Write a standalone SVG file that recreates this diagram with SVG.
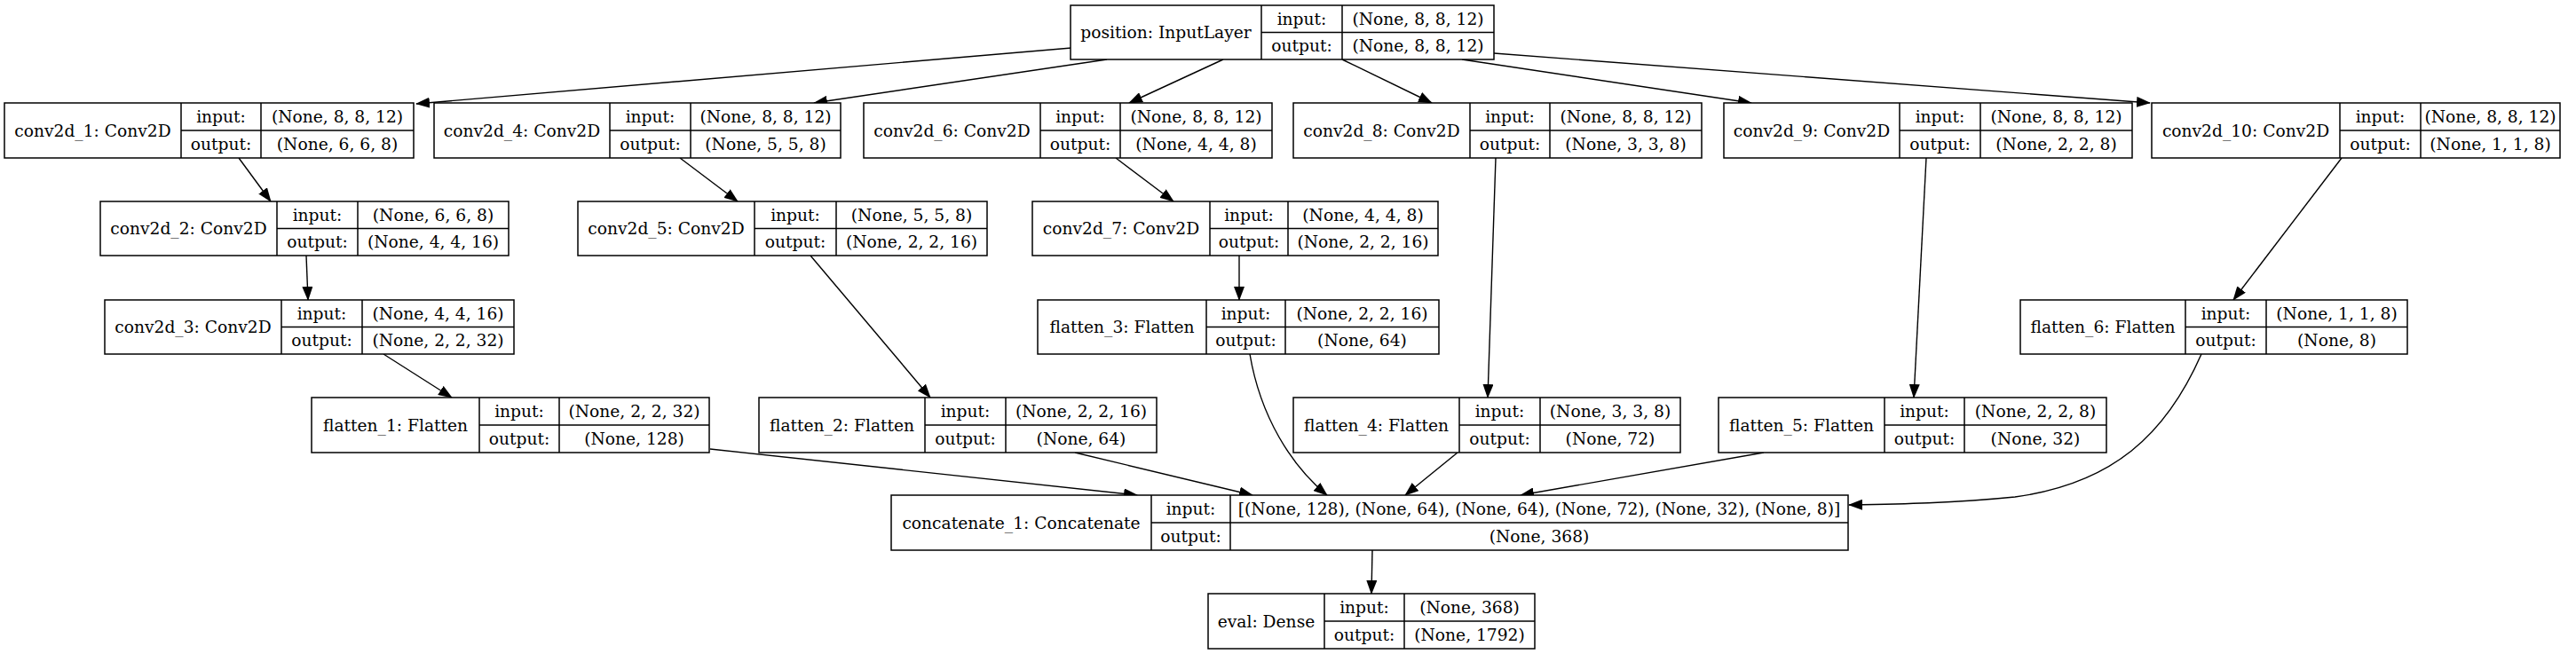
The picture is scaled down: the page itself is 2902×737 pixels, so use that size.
<svg xmlns="http://www.w3.org/2000/svg" width="2902" height="737" viewBox="0 0 2902 737">
<style>
.bg{fill:#fff}
.box{fill:#fff;stroke:#000;stroke-width:1.5}
.div{stroke:#000;stroke-width:1.5;fill:none}
text{font-family:"DejaVu Serif","Liberation Serif",serif;font-size:18.67px;text-anchor:middle;fill:#000}
.e{fill:none;stroke:#000;stroke-width:1.4;marker-end:url(#ah)}
</style>
<defs>
<marker id="ah" viewBox="0 0 16 12" refX="15" refY="6" markerWidth="16" markerHeight="12" markerUnits="userSpaceOnUse" orient="auto"><path d="M0,0 L16,6 L0,12 z" fill="#000"/></marker>
</defs>
<rect class="bg" x="0" y="0" width="2902" height="737"/>

<g id="connectors">
<path class="e" d="M1207,54 L469,117"/>
<path class="e" d="M1247,67 L917,116"/>
<path class="e" d="M1378,67 L1272,116"/>
<path class="e" d="M1512,67 L1613,116"/>
<path class="e" d="M1647,67 L1973,116"/>
<path class="e" d="M1683,60 L2422,116"/>
<path class="e" d="M269,178 L305,227"/>
<path class="e" d="M345,288 L347,338"/>
<path class="e" d="M432,399 L509,448"/>
<path class="e" d="M766,178 L831,227"/>
<path class="e" d="M913,288 L1048,448"/>
<path class="e" d="M1257,178 L1322,227"/>
<path class="e" d="M1396,288 L1396,338"/>
<path class="e" d="M1685,178 L1676,448"/>
<path class="e" d="M2170,178 L2156,448"/>
<path class="e" d="M2638,178 L2516,338"/>
<path class="e" d="M800,506 L1281,558"/>
<path class="e" d="M1211,510 L1411,558"/>
<path class="e" d="M1408,399 C1420,470 1455,525 1495,558"/>
<path class="e" d="M1642,510 L1583,558"/>
<path class="e" d="M1987,510 L1713,558"/>
<path class="e" d="M2480,399 C2440,490 2380,545 2270,560 C2200,567 2140,568 2083,569"/>
<path class="e" d="M1546,620 L1545,669"/>
</g>

<g id="position">
<rect class="box" x="1206" y="6" width="477" height="61"/>
<path class="div" d="M1421,6 V67 M1512,6 V67 M1421,36.5 H1683"/>
<text x="1313.5" y="43">position: InputLayer</text>
<text x="1466.5" y="27.75">input:</text>
<text x="1466.5" y="58.25">output:</text>
<text x="1597.5" y="27.75">(None, 8, 8, 12)</text>
<text x="1597.5" y="58.25">(None, 8, 8, 12)</text>
</g>

<g id="conv2d_1">
<rect class="box" x="5" y="116" width="461" height="62"/>
<path class="div" d="M204,116 V178 M294,116 V178 M204,147 H466"/>
<text x="104.5" y="153.5">conv2d_1: Conv2D</text>
<text x="249" y="138">input:</text>
<text x="249" y="169">output:</text>
<text x="380" y="138">(None, 8, 8, 12)</text>
<text x="380" y="169">(None, 6, 6, 8)</text>
</g>

<g id="conv2d_4">
<rect class="box" x="489" y="116" width="458" height="62"/>
<path class="div" d="M687,116 V178 M778,116 V178 M687,147 H947"/>
<text x="588" y="153.5">conv2d_4: Conv2D</text>
<text x="732.5" y="138">input:</text>
<text x="732.5" y="169">output:</text>
<text x="862.5" y="138">(None, 8, 8, 12)</text>
<text x="862.5" y="169">(None, 5, 5, 8)</text>
</g>

<g id="conv2d_6">
<rect class="box" x="973" y="116" width="460" height="62"/>
<path class="div" d="M1172,116 V178 M1262,116 V178 M1172,147 H1433"/>
<text x="1072.5" y="153.5">conv2d_6: Conv2D</text>
<text x="1217" y="138">input:</text>
<text x="1217" y="169">output:</text>
<text x="1347.5" y="138">(None, 8, 8, 12)</text>
<text x="1347.5" y="169">(None, 4, 4, 8)</text>
</g>

<g id="conv2d_8">
<rect class="box" x="1457" y="116" width="460" height="62"/>
<path class="div" d="M1656,116 V178 M1746,116 V178 M1656,147 H1917"/>
<text x="1556.5" y="153.5">conv2d_8: Conv2D</text>
<text x="1701" y="138">input:</text>
<text x="1701" y="169">output:</text>
<text x="1831.5" y="138">(None, 8, 8, 12)</text>
<text x="1831.5" y="169">(None, 3, 3, 8)</text>
</g>

<g id="conv2d_9">
<rect class="box" x="1942" y="116" width="460" height="62"/>
<path class="div" d="M2140,116 V178 M2231,116 V178 M2140,147 H2402"/>
<text x="2041" y="153.5">conv2d_9: Conv2D</text>
<text x="2185.5" y="138">input:</text>
<text x="2185.5" y="169">output:</text>
<text x="2316.5" y="138">(None, 8, 8, 12)</text>
<text x="2316.5" y="169">(None, 2, 2, 8)</text>
</g>

<g id="conv2d_10">
<rect class="box" x="2424" y="116" width="460" height="62"/>
<path class="div" d="M2636,116 V178 M2727,116 V178 M2636,147 H2884"/>
<text x="2530" y="153.5">conv2d_10: Conv2D</text>
<text x="2681.5" y="138">input:</text>
<text x="2681.5" y="169">output:</text>
<text x="2805.5" y="138">(None, 8, 8, 12)</text>
<text x="2805.5" y="169">(None, 1, 1, 8)</text>
</g>

<g id="conv2d_2">
<rect class="box" x="113" y="227" width="460" height="61"/>
<path class="div" d="M312,227 V288 M403,227 V288 M312,257.5 H573"/>
<text x="212.5" y="264">conv2d_2: Conv2D</text>
<text x="357.5" y="248.75">input:</text>
<text x="357.5" y="279.25">output:</text>
<text x="488" y="248.75">(None, 6, 6, 8)</text>
<text x="488" y="279.25">(None, 4, 4, 16)</text>
</g>

<g id="conv2d_5">
<rect class="box" x="651" y="227" width="461" height="61"/>
<path class="div" d="M850,227 V288 M942,227 V288 M850,257.5 H1112"/>
<text x="750.5" y="264">conv2d_5: Conv2D</text>
<text x="896" y="248.75">input:</text>
<text x="896" y="279.25">output:</text>
<text x="1027" y="248.75">(None, 5, 5, 8)</text>
<text x="1027" y="279.25">(None, 2, 2, 16)</text>
</g>

<g id="conv2d_7">
<rect class="box" x="1163" y="227" width="457" height="61"/>
<path class="div" d="M1363,227 V288 M1451,227 V288 M1363,257.5 H1620"/>
<text x="1263" y="264">conv2d_7: Conv2D</text>
<text x="1407" y="248.75">input:</text>
<text x="1407" y="279.25">output:</text>
<text x="1535.5" y="248.75">(None, 4, 4, 8)</text>
<text x="1535.5" y="279.25">(None, 2, 2, 16)</text>
</g>

<g id="conv2d_3">
<rect class="box" x="118" y="338" width="461" height="61"/>
<path class="div" d="M317,338 V399 M408,338 V399 M317,368.5 H579"/>
<text x="217.5" y="375">conv2d_3: Conv2D</text>
<text x="362.5" y="359.75">input:</text>
<text x="362.5" y="390.25">output:</text>
<text x="493.5" y="359.75">(None, 4, 4, 16)</text>
<text x="493.5" y="390.25">(None, 2, 2, 32)</text>
</g>

<g id="flatten_3">
<rect class="box" x="1169" y="338" width="452" height="61"/>
<path class="div" d="M1359,338 V399 M1448,338 V399 M1359,368.5 H1621"/>
<text x="1264" y="375">flatten_3: Flatten</text>
<text x="1403.5" y="359.75">input:</text>
<text x="1403.5" y="390.25">output:</text>
<text x="1534.5" y="359.75">(None, 2, 2, 16)</text>
<text x="1534.5" y="390.25">(None, 64)</text>
</g>

<g id="flatten_6">
<rect class="box" x="2276" y="338" width="436" height="61"/>
<path class="div" d="M2462,338 V399 M2553,338 V399 M2462,368.5 H2712"/>
<text x="2369" y="375">flatten_6: Flatten</text>
<text x="2507.5" y="359.75">input:</text>
<text x="2507.5" y="390.25">output:</text>
<text x="2632.5" y="359.75">(None, 1, 1, 8)</text>
<text x="2632.5" y="390.25">(None, 8)</text>
</g>

<g id="flatten_1">
<rect class="box" x="351" y="448" width="448" height="62"/>
<path class="div" d="M540,448 V510 M630,448 V510 M540,479 H799"/>
<text x="445.5" y="485.5">flatten_1: Flatten</text>
<text x="585" y="470">input:</text>
<text x="585" y="501">output:</text>
<text x="714.5" y="470">(None, 2, 2, 32)</text>
<text x="714.5" y="501">(None, 128)</text>
</g>

<g id="flatten_2">
<rect class="box" x="855" y="448" width="448" height="62"/>
<path class="div" d="M1042,448 V510 M1133,448 V510 M1042,479 H1303"/>
<text x="948.5" y="485.5">flatten_2: Flatten</text>
<text x="1087.5" y="470">input:</text>
<text x="1087.5" y="501">output:</text>
<text x="1218" y="470">(None, 2, 2, 16)</text>
<text x="1218" y="501">(None, 64)</text>
</g>

<g id="flatten_4">
<rect class="box" x="1457" y="448" width="436" height="62"/>
<path class="div" d="M1644,448 V510 M1735,448 V510 M1644,479 H1893"/>
<text x="1550.5" y="485.5">flatten_4: Flatten</text>
<text x="1689.5" y="470">input:</text>
<text x="1689.5" y="501">output:</text>
<text x="1814" y="470">(None, 3, 3, 8)</text>
<text x="1814" y="501">(None, 72)</text>
</g>

<g id="flatten_5">
<rect class="box" x="1936" y="448" width="437" height="62"/>
<path class="div" d="M2123,448 V510 M2213,448 V510 M2123,479 H2373"/>
<text x="2029.5" y="485.5">flatten_5: Flatten</text>
<text x="2168" y="470">input:</text>
<text x="2168" y="501">output:</text>
<text x="2293" y="470">(None, 2, 2, 8)</text>
<text x="2293" y="501">(None, 32)</text>
</g>

<g id="concatenate_1">
<rect class="box" x="1004" y="558" width="1078" height="62"/>
<path class="div" d="M1297,558 V620 M1386,558 V620 M1297,589 H2082"/>
<text x="1150.5" y="595.5">concatenate_1: Concatenate</text>
<text x="1341.5" y="580">input:</text>
<text x="1341.5" y="611">output:</text>
<text x="1734" y="580">[(None, 128), (None, 64), (None, 64), (None, 72), (None, 32), (None, 8)]</text>
<text x="1734" y="611">(None, 368)</text>
</g>

<g id="eval">
<rect class="box" x="1361" y="669" width="368" height="62"/>
<path class="div" d="M1492,669 V731 M1582,669 V731 M1492,700 H1729"/>
<text x="1426.5" y="706.5">eval: Dense</text>
<text x="1537" y="691">input:</text>
<text x="1537" y="722">output:</text>
<text x="1655.5" y="691">(None, 368)</text>
<text x="1655.5" y="722">(None, 1792)</text>
</g>
</svg>
